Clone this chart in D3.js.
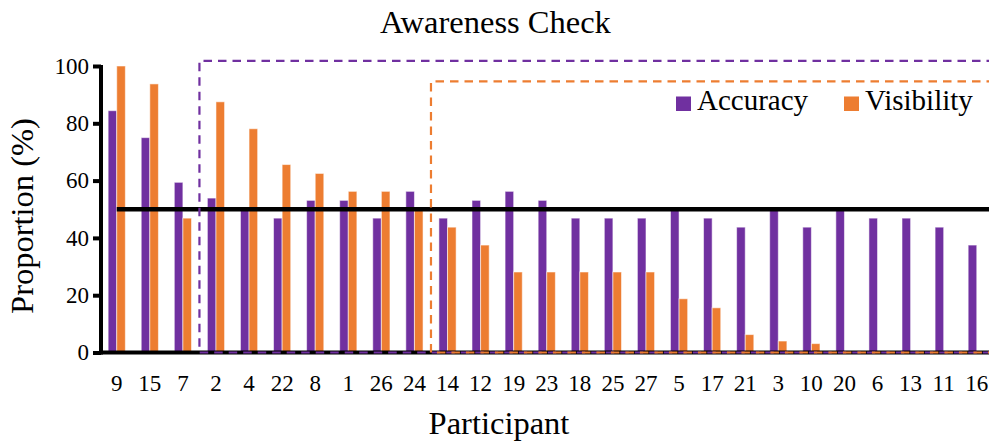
<!DOCTYPE html>
<html>
<head>
<meta charset="utf-8">
<script src="https://cdn.jsdelivr.net/npm/d3@7"></script>
<style>
  html, body { margin: 0; padding: 0; background: #fff; }
  svg { display: block; font-family: "Liberation Serif", "Times New Roman", serif; }
</style>
</head>
<body>
<svg id="chart" width="989" height="445"></svg>
<script>
const participants = ["9","15","7","2","4","22","8","1","26","24","14","12","19","23","18","25","27","5","17","21","3","10","20","6","13","11","16"];
const accuracy   = [84.4,75,59.4,53.9,50,46.9,53.1,53.1,46.9,56.25,46.9,53.1,56.25,53.1,46.9,46.9,46.9,50,46.9,43.75,50,43.75,50,46.9,46.9,43.75,37.5];
const visibility = [100,93.75,46.9,87.5,78.1,65.6,62.5,56.25,56.25,50,43.75,37.5,28.1,28.1,28.1,28.1,28.1,18.75,15.6,6.25,4,3.1,0,0,0,0,0];
const seriesNames = ["Accuracy","Visibility"];
const seriesColors = ["#7030A0","#ED7D31"];
const yTicks = [0,20,40,60,80,100];
const chanceLevel = 50;
// annotation boxes: start participant, top value
const boxStarts = ["2","14"];
const boxTops = [101.8, 94.6];

const svg = d3.select("#chart");
const x = d3.scaleBand().domain(participants).range([100.2, 993.3]).padding(0);
const y = d3.scaleLinear().domain([0,100]).range([352.5, 66]);
const sub = d3.scaleBand().domain(seriesNames).range([-8.6, 8.6]);

// title
svg.append("text").attr("x", 495.5).attr("y", 32.5).attr("text-anchor","middle")
  .attr("font-size", 32.5).attr("fill","#000").text("Awareness Check");

// bars
const data = participants.map((p,i)=>({p, vals:[accuracy[i], visibility[i]]}));
const g = svg.append("g");
data.forEach(d=>{
  d.vals.forEach((v,j)=>{
    if (v <= 0) return;
    g.append("rect")
      .attr("x", x(d.p) + x.bandwidth()/2 + sub(seriesNames[j]))
      .attr("y", y(v))
      .attr("width", sub.bandwidth())
      .attr("height", y(0)-y(v))
      .attr("fill", seriesColors[j])
      .attr("stroke", "rgba(255,255,255,0.55)")
      .attr("stroke-width", 1);
  });
});

// y axis
const yAxis = d3.axisLeft(y).tickValues(yTicks).tickSize(8).tickPadding(4);
const ya = svg.append("g").attr("transform","translate(101,0)").call(yAxis);
ya.select(".domain").attr("stroke","#000").attr("stroke-width",4).attr("d", `M0,${y(100)-1}V${y(0)+2}`);
ya.selectAll(".tick line").attr("stroke","#000").attr("stroke-width",4);
ya.selectAll(".tick text").attr("font-size",23).attr("font-family","Liberation Serif, serif").attr("fill","#000");

// x axis
const xAxis = d3.axisBottom(x).tickSize(0).tickPadding(22);
const xa = svg.append("g").attr("transform",`translate(0,${y(0)})`).call(xAxis);
xa.select(".domain").attr("stroke","#000").attr("stroke-width",4).attr("d","M99,0H989");
xa.selectAll(".tick text").attr("font-size",23).attr("font-family","Liberation Serif, serif").attr("fill","#000");

// chance line
svg.append("line")
  .attr("x1", x(participants[0]) + x.bandwidth()/2).attr("x2", 989)
  .attr("y1", y(chanceLevel)).attr("y2", y(chanceLevel))
  .attr("stroke","#000").attr("stroke-width",4.5);

// dashed annotation boxes
boxStarts.forEach((s,i)=>{
  const x0 = x(s), y0 = y(boxTops[i]);
  svg.append("path")
    .attr("d", `M995,${y0}H${x0}V${y(0)}H995`)
    .attr("fill","none").attr("stroke", seriesColors[i])
    .attr("stroke-width",2.2).attr("stroke-dasharray","8.5,6");
});

// legend
const legX = [676, 844];
seriesNames.forEach((n,i)=>{
  svg.append("rect").attr("x", legX[i]).attr("y", 96.5).attr("width",15).attr("height",14.5).attr("fill",seriesColors[i]);
  svg.append("text").attr("x", legX[i]+21).attr("y", 110).attr("font-size",29).attr("fill","#000").text(n);
});

// axis titles
svg.append("text").attr("x", 499).attr("y", 434).attr("text-anchor","middle")
  .attr("font-size",32.5).attr("fill","#000").text("Participant");
svg.append("text").attr("transform","translate(33,216) rotate(-90)").attr("text-anchor","middle")
  .attr("font-size",32.5).attr("fill","#000").text("Proportion (%)");
</script>
</body>
</html>
